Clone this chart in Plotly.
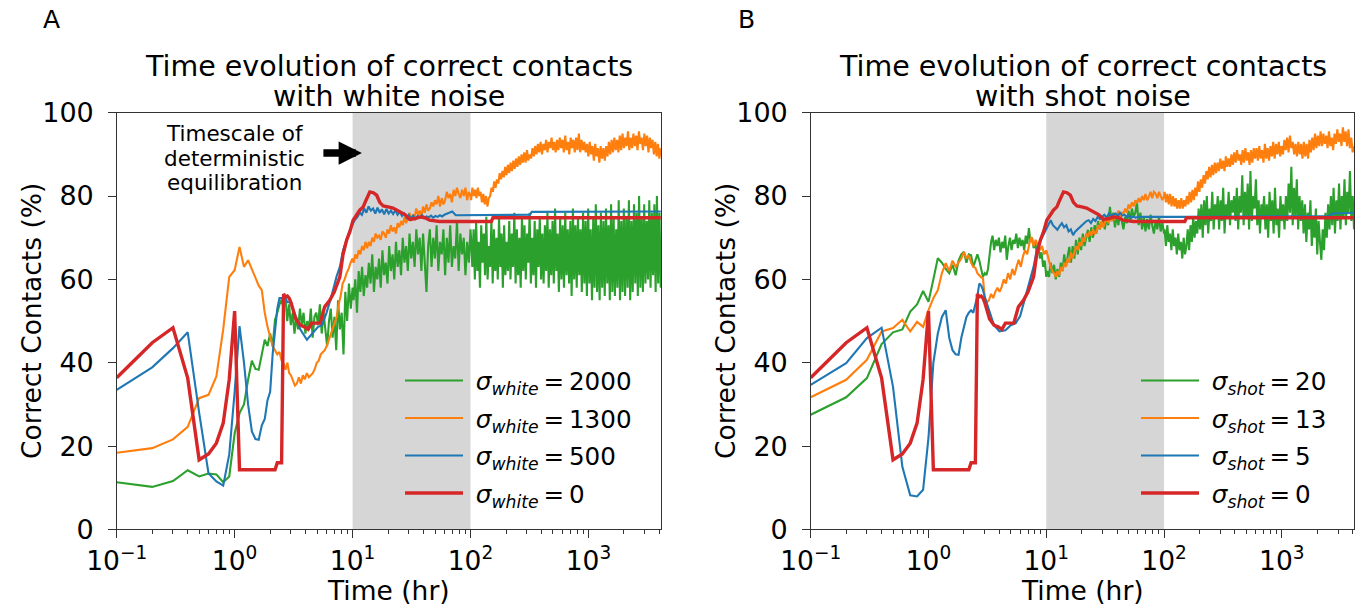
import numpy as np
import plotly.graph_objects as go

# ------------------------------------------------------------------ data
# early part of every run is sampled every 0.1 h
T01 = [0.1, 0.2, 0.3, 0.4, 0.5, 0.6, 0.7, 0.8, 0.9, 1.0, 1.1, 1.2, 1.3, 1.4, 1.5, 1.6, 1.7,
       1.8, 1.9, 2.0, 2.1, 2.2, 2.3, 2.4, 2.5, 2.6, 2.7, 2.8, 2.9, 3.0, 3.1, 3.2, 3.3, 3.4]

# ---- deterministic run (sigma = 0), identical in both panels
RED_Y_EARLY = [36.4, 44.8, 48.4, 36.3, 16.7, 18.1, 20.7, 25.5, 36, 52.4,
               14.3, 14.3, 14.3, 14.3, 14.3, 14.3, 14.3, 14.3, 14.3, 14.3,
               14.3, 14.3, 16.0, 16.0, 16.0, 56.5, 55.8, 56, 55.5, 54.5]
RED_T_LATE = [3.3, 3.6, 3.9, 4.2, 4.5, 5.0, 5.3, 5.8, 6.4, 7.0, 7.8, 8.3, 8.9, 9.5, 10.1,
              11.5, 12.3, 13, 14, 15, 16, 17, 18.2, 20, 22, 26, 28, 30.5, 34, 37.3, 41, 45, 50, 54.7,
              150, 155, 4100]
RED_Y_LATE = [50.5, 49, 48.6, 48, 49.5, 49.5, 49.5, 53.4, 55, 57, 60.6, 66, 69.4, 71.5, 74.2,
              76.6, 77.4, 79, 81, 80.8, 80.2, 78.5, 77.6, 77.4, 77.1, 76.0, 75.5, 74.4, 74.6, 75.0, 74.8, 74.2, 74.0, 73.9,
              73.9, 74.8, 74.8]

# ---- panel A : white noise
# sigma_white = 2000 (green)
GL_Y_EARLY = [11.3, 10.2, 11.6, 14.2, 12.7, 13.4, 13.2, 11.3, 12.7, 23,
              27.9, 30, 35.9, 40.5, 38.5, 38.3, 42, 45.5, 44, 47,
              44, 50.3, 52, 54, 55.1]
GL_NOISE_1 = [53, 56, 50, 54, 49, 52, 47, 51, 48, 53, 49, 52, 47, 50, 48, 53, 46, 51, 52, 49,
              54, 47, 52, 48, 44, 50, 53, 46, 51, 43, 55, 48, 52, 42, 57, 50, 59, 53, 58]          # 2.6 -> 10 h
GL_NOISE_2 = [55, 60, 52, 62, 57, 63, 56, 61, 58, 64, 59, 66, 57, 63, 60, 65, 58, 67, 61, 64,
              59, 68, 62, 66, 60, 69, 63, 67, 61, 70, 64, 68, 62, 71, 65, 69, 63, 72, 66, 70,
              62, 71, 64, 57, 68, 72, 63, 70, 65, 73, 62, 69, 66, 72, 61, 70, 64, 73, 63, 68,
              65, 74, 62, 71, 66, 70, 61, 69, 64, 72]                                            # 10 -> 100 h
GL_NOISE_3 = [70, 63, 72, 60, 74, 62, 69, 58, 73, 64, 71, 61, 75, 60, 68, 63, 74, 59, 72, 62,
              70, 60, 75, 63, 71, 58, 73, 61, 69, 62, 74, 60, 71, 63, 76, 59, 72, 61, 70, 58,
              75, 62, 73, 60, 71, 64, 76, 59, 70, 61, 74, 58, 72, 63, 75, 60, 71, 59, 73, 62,
              76, 58, 72, 61, 74, 59, 77, 62, 71, 57, 75, 60, 73, 58, 76, 61, 72, 59, 74, 56,
              77, 60, 73, 58, 75, 61, 72, 57, 76, 59, 74, 56, 77, 59, 72, 55, 75, 58, 78, 57,
              73, 55, 76, 58, 74, 56, 77, 59, 73, 55, 78, 57, 75, 56, 72, 58, 79, 55, 74, 57,
              77, 56, 75, 58, 79, 55, 74, 57, 78, 59, 76, 56, 80, 58, 75, 57, 78, 59, 74, 60,
              79, 58, 76, 61, 78, 57, 80, 59, 76, 58]                                            # 100 -> 4100 h
# sigma_white = 1300 (orange)
OL_Y_EARLY = [18.4, 19.5, 21.6, 24.6, 31.5, 32.3, 36.7, 48, 60.6, 62.2,
              67.8, 63.0, 64.6, 62.5, 60.6, 58.5, 57.4, 52, 48.6, 46.2,
              44, 43, 42, 42.6, 40.5, 39.9, 38.3, 40, 37.5]
OL_NOISE_1 = [37, 35.5, 34.5, 35, 36.5, 35, 37, 36, 37.5, 36.5, 37, 37.5, 38.5, 40, 40.5, 42,
              42.5, 43, 44, 45.5, 47, 48, 49.5, 51, 54, 56, 59, 60, 61.5, 62.5, 64, 65]          # 3 -> 10 h
OL_NOISE_2 = [64, 66, 65, 67, 66, 68, 67, 69, 67.5, 69, 68, 70, 69, 71, 70, 70.5, 69.5, 71.5,
              71, 70, 72, 71, 73, 71.5, 72.5, 71, 73.5, 72.5, 74, 73, 75, 73.5, 74.5, 76, 74, 75.5,
              75, 77, 75.5, 76.5, 75, 77.5, 76, 78, 76.5, 77, 78.5, 77.5, 79, 78, 80, 77.5, 79.5, 78,
              79, 81, 79.5, 80.5, 78.5, 81.5, 80, 82, 80.5, 79.5, 81.5, 80, 82, 79, 81, 80]      # 10 -> 100 h
OL_NOISE_3 = [79, 82, 80, 81.5, 79.5, 82, 80, 81, 78.5, 80.5, 78, 80, 77.5, 79.5,
              80, 82, 81, 83.5, 82, 84, 83, 85.5, 84, 86,
              84.5, 87, 85, 87.5, 85.5, 88, 86, 88.5, 86.5, 89, 87, 89.5, 87.5, 90, 88, 90.5, 88, 91, 88.5, 90,
              89, 91.5, 89.5, 92, 90, 92.5, 90.5, 93, 90, 92.5, 91, 93.5, 90.5, 93, 91.5, 94, 91, 93, 90.5, 93.5,
              91, 94, 91.5, 93.5, 90.5, 94.5, 91, 93, 90, 94, 91.5, 93.5, 90.5, 94, 91, 95, 90.5, 93.5, 91,
              93, 90.5, 92.5, 89.5, 93, 90, 92, 88.5, 92.5, 89.5, 91.5, 88, 92, 89, 91.5, 88.5, 92,
              89.5, 93, 90, 93.5, 90.5, 94, 91, 93.5, 90.5, 94.5, 91, 95, 91.5, 94, 92, 95.5, 91, 94,
              91.5, 95, 92, 94.5, 91, 95.5, 92.5, 94, 91, 95, 92, 94.5, 90.5, 94, 91.5, 93.5, 90, 93,
              89.5, 92.5, 89, 91.5]                                                              # 100 -> 4100 h
# sigma_white = 500 (blue)
BL_Y_EARLY = [33.5, 38.9, 43.5, 47.3, 28, 13.5, 11.5, 10.5, 18, 33,
              48.8, 40, 30, 23.5, 21.7, 21.5, 25, 26.5, 31, 33,
              42, 48, 53, 55.5, 55.5, 55, 55.5, 54.5, 54.5, 54.3]
BL_T_MID = [3.3, 3.6, 4.1, 4.4, 4.7, 5.1, 5.5, 6.0, 6.6, 7.3, 7.8, 8.3, 9.0, 9.5, 10.4]
BL_Y_MID = [51, 48, 45.5, 46.5, 47.5, 48.6, 49, 51.9, 55.8, 60.6, 63, 67, 70, 71.9, 74.2]
BL_NOISE = [75, 76, 75.5, 77, 76, 77.5, 76.5, 77, 75.8, 77.2, 76, 76.8, 75.6, 76.9, 75.8, 76.5,
            75.7, 76.6, 75.5, 76.2, 75.2, 75.8, 74.8, 75.5, 74.6, 75.3, 74.5, 75.2, 74.8, 75.4,
            74.7, 75.1, 74.9, 75.3, 74.8, 75.2, 75, 75.4, 75.1, 75.5]                           # 11 -> 60 h
BL_T_LATE = [70, 75, 320, 330, 4100]
BL_Y_LATE = [76.3, 75.4, 75.5, 76.2, 76.3]

# ---- panel B : shot noise
# sigma_shot = 20 (green)
GR_Y_EARLY = [27.5, 31.7, 36.3, 44.5, 47.3, 48, 52.3, 54, 57.2, 54.6,
              60, 65.1, 64, 62.5, 61.5, 63.5, 61, 64.5, 66, 66.6,
              64, 66, 65.8, 63, 64.5, 66, 64.5, 62, 60.6, 61.5, 61, 62.5, 66, 69]
GR_NOISE_1 = [70.5, 67, 69.5, 68, 70, 66.5, 69, 67.5, 70.5, 64.7, 68, 70, 67, 69.5, 68.5, 71,
              67.5, 70, 68, 69.5, 67, 70.5, 68.5, 72.3, 69, 70, 67.5, 69, 66.3, 68, 65, 66.5,
              63, 64.5, 60.6]                                                                    # 3.5 -> 10 h
GR_NOISE_2 = [62, 60.6, 64, 61.5, 63.5, 60, 62.5, 60.6, 64, 62, 66, 63, 65.5, 67.8,
              64, 68, 65, 69.5, 66, 70, 67, 71, 68, 70.5, 71.9,
              69, 72.5, 70, 73, 71, 74, 72, 73.5, 74.2,
              72, 75, 73, 77.4, 74, 76, 72.5, 75.5, 73, 76, 74,
              72, 75, 73.5, 76.5, 74, 77, 75, 76, 78.6,
              73, 76, 72, 75, 71.5, 74.5, 72, 75.5, 73,
              71, 74, 72, 75, 71.5, 73.5, 71]                                                    # 10 -> 100 h
GR_NOISE_3 = [72, 68, 73, 69, 71, 67, 72, 68, 70, 66, 71, 67, 69, 65, 70, 66,
              68, 72, 67, 73, 69, 75, 70, 74, 71, 77,
              72, 78, 70, 79, 73, 80, 71, 77, 74, 81, 72, 78, 75, 80, 72, 79, 74, 82, 71, 78, 75, 81, 73, 79, 76, 80,
              74, 82, 72, 80, 76, 85, 73, 81, 75, 83, 72, 86, 74, 80, 77, 84, 73, 79, 71, 78, 75,
              80, 72, 78, 70, 81, 74, 79, 71, 82, 73, 77, 70, 80, 74, 78, 72, 80,
              74, 83, 76, 87, 73, 82, 75, 84, 72, 80, 74, 79,
              71, 78, 69, 76, 72, 79, 68, 75, 70, 77, 66, 74, 69, 64.7, 72, 67, 76, 70, 78,
              72, 80, 73, 82, 71, 79, 74, 83, 72, 80, 75, 84, 73, 81, 76, 86, 74, 80, 72]        # 100 -> 4100 h
# sigma_shot = 13 (orange)
OR_Y_EARLY = [31.7, 35.9, 40.7, 47.5, 48.3, 50.3, 47.5, 49.8, 48.6, 52.6,
              55.5, 57.4, 61.5, 63.9, 62, 64.5, 63, 64, 65, 66.6,
              65, 65.8, 64, 63, 62.8, 61.5, 61, 60.5, 60.3]
OR_NOISE_1 = [55.8, 54.5, 55, 56.5, 55.5, 57, 58, 57, 58.2, 60, 59, 61.5, 60, 62.5, 61, 63,
              64.7, 63, 65.5, 67, 66, 68.5, 70.2, 68, 69.5, 68.3, 67, 68, 66, 67]                # 3 -> 10 h
OR_NOISE_2 = [66, 64.5, 63, 62, 61.5, 60.6, 62, 61, 63, 62, 64, 63, 65, 64, 66.5, 65,
              66.3, 68, 67, 69, 68, 70, 69, 71, 70.2,
              71.5, 70.5, 72, 71, 71.4, 73, 72, 74, 72.5, 73.7,
              74.5, 73.5, 75, 74, 75.5, 74.5, 75, 76.5, 75, 76, 75.9,
              77, 76, 78, 77, 78.5, 77.5, 79, 78.3,
              79.5, 78.5, 80, 79, 80.5, 79, 79.8, 81, 79.5, 81, 80.6,
              79.5, 81, 80, 79, 80]                                                              # 10 -> 100 h
OR_NOISE_3 = [81, 78.5, 80.5, 78, 80.5, 77.5, 80, 77.5, 79.5, 77, 79, 77, 79.5, 77, 79, 77.5,
              80, 78, 81, 78.5, 81.5, 79, 82, 80, 83.5, 81, 84, 82,
              85, 83, 86, 84, 87, 84.5, 87.5, 85, 88, 85.5, 88, 86, 89, 86.5, 88.5, 86, 89.5, 87, 89,
              87, 90, 87.5, 90.5, 88, 91, 88.5, 90, 87.5, 91, 88, 91.5, 88.5, 90.5, 87.5, 91, 88, 91.5, 89,
              91.5, 88.5, 92, 89, 91, 88, 92.5, 89, 91.5, 88.5, 92, 89.5, 93, 89, 92.5, 90, 93, 89.5, 92,
              90, 93.5, 91, 94, 90.5, 94.5, 91.5, 93, 90, 92.5, 89.5, 93, 90, 92.5, 89,
              93, 89.5, 92.5, 89, 93.5, 90.5, 94, 91, 95, 91.5, 94.5, 92, 95.5, 92,
              95, 92.5, 94.5, 91.5, 95.5, 92, 94, 91, 95, 92.5, 96, 93, 95, 92, 96.5, 93, 95.5, 92,
              96, 91.5, 94, 90.5, 92]                                                            # 100 -> 4100 h
# sigma_shot = 5 (blue)
BR_Y_EARLY = [34.7, 39.9, 45.9, 48.4, 34.2, 15, 8.2, 7.9, 9.5, 22,
              40, 47, 51, 52.6, 46, 43, 42, 41.9, 46, 49,
              51, 52, 52.6, 52, 54, 56, 59, 58.5, 57.5, 55.8]
BR_T_MID = [3.3, 3.6, 4.0, 4.5, 5.0, 5.5, 6.0, 6.7, 7.3, 7.8, 8.3, 9.0, 10.0]
BR_Y_MID = [52.3, 49, 47.5, 47.8, 49, 49.5, 51.2, 55.8, 60, 63, 67, 69.5, 71.9]
BR_NOISE = [74.2, 73, 72.5, 71.9, 72.8, 73.5, 72.5, 73, 71.5, 72, 70.6, 71.5, 72, 72.5, 73,
            73.5, 74, 74.2, 73.5, 74.5, 74, 75, 74.5, 75, 75.5, 74.8, 75.8, 75.2, 75.6, 75.8,
            75.2, 76, 75.3, 75.5, 75, 75.3, 74.8, 75.1, 74.8, 75]                              # 10.9 -> 60 h
BR_T_LATE = [150, 2500, 2700, 4100]
BR_Y_LATE = [75.0, 75.2, 75.8, 76.0]

LABELS_A = ["2000", "1300", "500", "0"]
LABELS_B = ["20", "13", "5", "0"]
COLORS = ["#2ca02c", "#ff7f0e", "#1f77b4", "#d62728"]


def series(*parts):
    """parts: ('p', times, values) or ('n', t_start, t_end, values)"""
    t, y = [], []
    for p in parts:
        if p[0] == 'p':
            t += list(p[1]); y += list(p[2])
        else:
            t += list(np.geomspace(p[1], p[2], len(p[3]))); y += list(p[3])
    return t, y


red = series(('p', T01[:30], RED_Y_EARLY), ('p', RED_T_LATE, RED_Y_LATE))

panel_a = [
    series(('p', T01[:25], GL_Y_EARLY), ('n', 2.6, 10, GL_NOISE_1), ('n', 10.2, 100, GL_NOISE_2),
           ('n', 101, 4100, GL_NOISE_3)),
    series(('p', T01[:29], OL_Y_EARLY), ('n', 3.0, 10, OL_NOISE_1), ('n', 10.2, 100, OL_NOISE_2),
           ('n', 101, 4100, OL_NOISE_3)),
    series(('p', T01[:30], BL_Y_EARLY), ('p', BL_T_MID, BL_Y_MID), ('n', 11, 60, BL_NOISE),
           ('p', BL_T_LATE, BL_Y_LATE)),
    red,
]
panel_b = [
    series(('p', T01[:34], GR_Y_EARLY), ('n', 3.5, 10, GR_NOISE_1), ('n', 10.2, 100, GR_NOISE_2),
           ('n', 101, 4100, GR_NOISE_3)),
    series(('p', T01[:29], OR_Y_EARLY), ('n', 3.0, 10, OR_NOISE_1), ('n', 10.2, 100, OR_NOISE_2),
           ('n', 101, 4100, OR_NOISE_3)),
    series(('p', T01[:30], BR_Y_EARLY), ('p', BR_T_MID, BR_Y_MID), ('n', 10.9, 60, BR_NOISE),
           ('p', BR_T_LATE, BR_Y_LATE)),
    red,
]

# ------------------------------------------------------------------ figure
W, H = 1361, 607
FONT = "DejaVu Sans"
fig = go.Figure()

for k, (panel, sub, labels, leg) in enumerate([(panel_a, "white", LABELS_A, "legend"),
                                               (panel_b, "shot", LABELS_B, "legend2")]):
    xa = "x" if k == 0 else "x2"
    ya = "y" if k == 0 else "y2"
    for i, ((t, y), lab, col) in enumerate(zip(panel, labels, COLORS)):
        fig.add_trace(go.Scatter(
            x=t, y=y, mode="lines", xaxis=xa, yaxis=ya, legend=leg, legendgroup=f"g{k}{i}",
            name=f"\u00a0<i>σ<sub>{sub}</sub></i>\u2009=\u2009{lab}",
            line=dict(color=col, width=3.4 if lab == "0" else 2.1),
        ))
    fig.add_shape(type="rect", x0=10, x1=100, y0=0, y1=1, xref=xa, yref=f"{ya} domain",
                  fillcolor="#d6d6d6", line_width=0, layer="below")


def px(x):
    return x / W


def py(y):
    return 1 - y / H


minor_vals = [m * 10 ** e for e in range(-1, 4) for m in range(2, 10) if m * 10 ** e < 4100]
xcommon = dict(
    type="log", range=[-1, 3.615], showline=True, linecolor="#333", linewidth=1, mirror=True,
    ticks="outside", ticklen=7.5, tickwidth=1, tickcolor="#333", showgrid=False, zeroline=False,
    automargin=False,
    tickvals=[0.1, 1, 10, 100, 1000],
    ticktext=["10<sup>−1</sup>", "10<sup>0</sup>", "10<sup>1</sup>", "10<sup>2</sup>", "10<sup>3</sup>"],
    tickfont=dict(size=26.5, family=FONT, color="black"),
    minor=dict(tickvals=minor_vals, ticks="outside", ticklen=4, tickwidth=0.8, tickcolor="#333"),
)
ycommon = dict(
    range=[0, 100], showline=True, linecolor="#333", linewidth=1, mirror=True,
    ticks="outside", ticklen=7.5, tickwidth=1, tickcolor="#333", showgrid=False, zeroline=False,
    automargin=False, ticklabelstandoff=9,
    tickvals=[0, 20, 40, 60, 80, 100],
    tickfont=dict(size=27, family=FONT, color="black"),
)

dom_y = [py(529.4), py(112.7)]
legend_common = dict(xanchor="left", yanchor="top", bgcolor="rgba(0,0,0,0)",
                     font=dict(size=24.6, family=FONT, color="black"), itemwidth=58, tracegroupgap=2.5)
fig.update_layout(
    width=W, height=H, margin=dict(l=0, r=0, t=0, b=0, autoexpand=False),
    paper_bgcolor="white", plot_bgcolor="rgba(0,0,0,0)",
    font=dict(family=FONT, color="black"),
    xaxis=dict(domain=[px(116.7), px(661)], anchor="y", **xcommon),
    yaxis=dict(domain=dom_y, anchor="x", **ycommon),
    xaxis2=dict(domain=[px(810.7), px(1354.3)], anchor="y2", **xcommon),
    yaxis2=dict(domain=dom_y, anchor="x2", **ycommon),
    legend=dict(x=px(400), y=py(358), **legend_common),
    legend2=dict(x=px(1136), y=py(358), **legend_common),
    showlegend=True,
)

ann = []
for cx, sub, ytx in [((116.7 + 661) / 2, "white", 32), ((810.7 + 1354.3) / 2, "shot", 726)]:
    ann.append(dict(x=px(cx), y=py(66), text="Time evolution of correct contacts",
                    font=dict(size=28.5, family=FONT)))
    ann.append(dict(x=px(cx), y=py(97), text=f"with {sub} noise", font=dict(size=28.5, family=FONT)))
    ann.append(dict(x=px(cx), y=py(590), text="Time (hr)", font=dict(size=26.5, family=FONT)))
    ann.append(dict(x=px(ytx), y=py(321), text="Correct Contacts (%)", textangle=-90,
                    font=dict(size=26.5, family=FONT)))
ann.append(dict(x=px(51), y=py(20), text="A", font=dict(size=25, family=FONT)))
ann.append(dict(x=px(746), y=py(20), text="B", font=dict(size=25, family=FONT)))
for i, line in enumerate(["Timescale of", "deterministic", "equilibration"]):
    ann.append(dict(x=px(234), y=py(133 + 25 * i), text=line, font=dict(size=21.5, family=FONT)))
for a in ann:
    a.update(xref="paper", yref="paper", showarrow=False, xanchor="center", yanchor="middle")
ann.append(dict(x=1.079, y=90.3, xref="x", yref="y", ax=-40, ay=0, text="", showarrow=True,
                arrowhead=2, arrowsize=0.62, arrowwidth=7.5, arrowcolor="black"))
fig.update_layout(annotations=ann)

fig.write_html("out.html", config={"displayModeBar": False},
               post_script="document.body.style.margin='0px';document.body.style.overflow='hidden';")
